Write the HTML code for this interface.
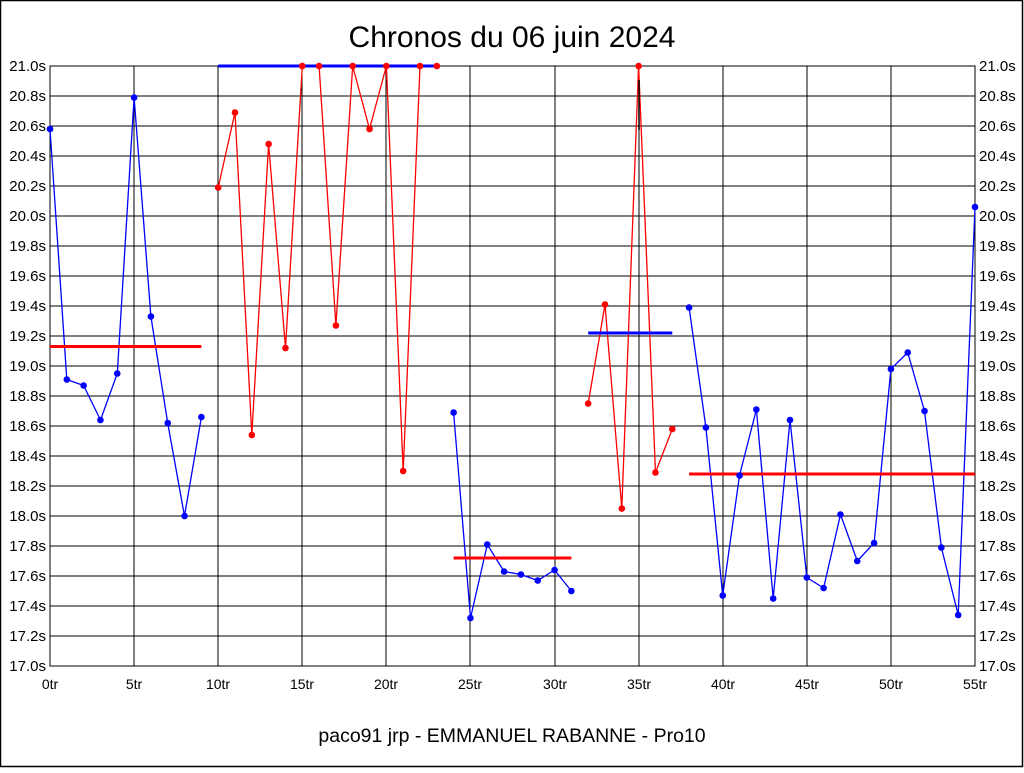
<!DOCTYPE html>
<html><head><meta charset="utf-8"><style>
html,body{margin:0;padding:0;background:#fff;}
svg text{font-family:"Liberation Sans",Arial,sans-serif;fill:#000;}
</style></head><body>
<svg id="s" width="1024" height="768" xmlns="http://www.w3.org/2000/svg">
<rect x="0.5" y="0.5" width="1022" height="766" fill="#fff" stroke="#000" stroke-width="1.5"/>
<text x="512" y="47" font-size="30" text-anchor="middle">Chronos du 06 juin 2024</text>
<g id="grid" stroke="#000" stroke-width="1" shape-rendering="crispEdges"></g>
<g font-size="15" text-anchor="end">
<text x="46" y="71">21.0s</text><text x="46" y="101">20.8s</text><text x="46" y="131">20.6s</text><text x="46" y="161">20.4s</text><text x="46" y="191">20.2s</text><text x="46" y="221">20.0s</text><text x="46" y="251">19.8s</text><text x="46" y="281">19.6s</text><text x="46" y="311">19.4s</text><text x="46" y="341">19.2s</text><text x="46" y="371">19.0s</text><text x="46" y="401">18.8s</text><text x="46" y="431">18.6s</text><text x="46" y="461">18.4s</text><text x="46" y="491">18.2s</text><text x="46" y="521">18.0s</text><text x="46" y="551">17.8s</text><text x="46" y="581">17.6s</text><text x="46" y="611">17.4s</text><text x="46" y="641">17.2s</text><text x="46" y="671">17.0s</text>
</g>
<g font-size="15" text-anchor="start">
<text x="979" y="71">21.0s</text><text x="979" y="101">20.8s</text><text x="979" y="131">20.6s</text><text x="979" y="161">20.4s</text><text x="979" y="191">20.2s</text><text x="979" y="221">20.0s</text><text x="979" y="251">19.8s</text><text x="979" y="281">19.6s</text><text x="979" y="311">19.4s</text><text x="979" y="341">19.2s</text><text x="979" y="371">19.0s</text><text x="979" y="401">18.8s</text><text x="979" y="431">18.6s</text><text x="979" y="461">18.4s</text><text x="979" y="491">18.2s</text><text x="979" y="521">18.0s</text><text x="979" y="551">17.8s</text><text x="979" y="581">17.6s</text><text x="979" y="611">17.4s</text><text x="979" y="641">17.2s</text><text x="979" y="671">17.0s</text>
</g>
<g font-size="14" text-anchor="middle">
<text x="50" y="689">0tr</text><text x="134" y="689">5tr</text><text x="218" y="689">10tr</text><text x="302" y="689">15tr</text><text x="386" y="689">20tr</text><text x="470" y="689">25tr</text><text x="555" y="689">30tr</text><text x="639" y="689">35tr</text><text x="723" y="689">40tr</text><text x="807" y="689">45tr</text><text x="891" y="689">50tr</text><text x="975" y="689">55tr</text>
</g>
<text x="512" y="742" font-size="19.5" text-anchor="middle">paco91 jrp - EMMANUEL RABANNE - Pro10</text>
<g id="data"></g>
</svg>
<script>
var NS="http://www.w3.org/2000/svg";
function X(t){return 50+t*925/55;}function Y(v){return 66+(21-v)*150;}
function el(p,n,a){var e=document.createElementNS(NS,n);for(var k in a)e.setAttribute(k,a[k]);p.appendChild(e);return e;}
var g=document.getElementById('grid');
for(var i=0;i<=20;i++){var y=66+i*30;el(g,'line',{x1:50,x2:975,y1:y,y2:y});}
for(var i=0;i<=11;i++){var x=Math.round(X(i*5));el(g,'line',{x1:x,x2:x,y1:66,y2:666});}
el(g,'rect',{x:50,y:66,width:925,height:600,fill:'none'});
var d=document.getElementById('data');
var segs=[
{c:'#00f',s:0,v:[20.58,18.91,18.87,18.64,18.95,20.79,19.33,18.62,18.00,18.66],a:19.13,ac:'#f00'},
{c:'#f00',s:10,v:[20.19,20.69,18.54,20.48,19.12,21.0,21.0,19.27,21.0,20.58,21.0,18.30,21.0,21.0],a:21.0,ac:'#00f'},
{c:'#00f',s:24,v:[18.69,17.32,17.81,17.63,17.61,17.57,17.64,17.50],a:17.72,ac:'#f00'},
{c:'#f00',s:32,v:[18.75,19.41,18.05,21.0,18.29,18.58],a:19.22,ac:'#00f'},
{c:'#00f',s:38,v:[19.39,18.59,17.47,18.27,18.71,17.45,18.64,17.59,17.52,18.01,17.70,17.82,18.98,19.09,18.70,17.79,17.34,20.06],a:18.28,ac:'#f00'}];
segs.forEach(function(sg){
 var pts=sg.v.map(function(v,i){return X(sg.s+i).toFixed(1)+','+Y(v).toFixed(1);}).join(' ');
 el(d,'polyline',{points:pts,fill:'none',stroke:sg.c,'stroke-width':1.3});
 el(d,'line',{x1:X(sg.s),x2:X(sg.s+sg.v.length-1),y1:Y(sg.a),y2:Y(sg.a),stroke:sg.ac,'stroke-width':3});
 sg.v.forEach(function(v,i){el(d,'circle',{cx:X(sg.s+i),cy:Y(v),r:3.3,fill:sg.c});});
});
el(d,'line',{x1:639,x2:639,y1:80,y2:130,stroke:'#000','stroke-width':1.5});
</script>
</body></html>
